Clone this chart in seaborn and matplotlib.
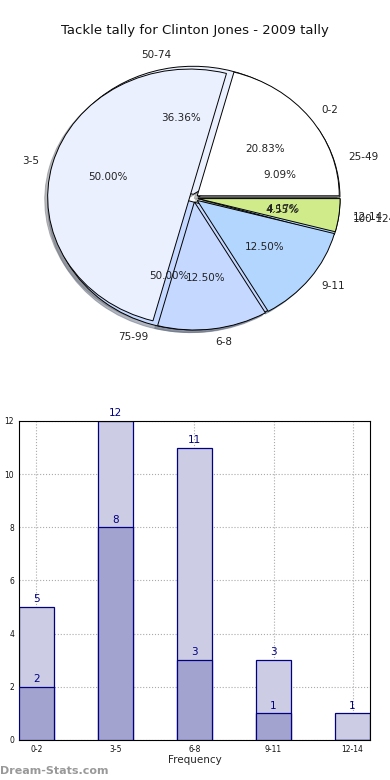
import matplotlib
matplotlib.use("Agg")
import matplotlib.pyplot as plt
import seaborn as sns
import pandas as pd

# data
freq_labels = ["0-2", "3-5", "6-8", "9-11", "12-14"]
freq_counts = [5, 12, 3, 3, 1]
tackle_labels = ["25-49", "50-74", "75-99", "100-124"]
tackle_counts = [2, 8, 11, 1]
bar_light = [5, 12, 11, 3, 1]
bar_dark = [2, 8, 3, 1, 0]

pie_colors = ["#ffffff", "#eaf0fe", "#c5d8ff", "#b3d6ff", "#d0ec8a"]

sns.set_style("white")
plt.rcParams["font.family"] = ["DejaVu Sans"]

fig = plt.figure(figsize=(3.9, 7.8), dpi=100)
fig.text(0.5, 0.961, "Tackle tally for Clinton Jones - 2009 tally",
         ha="center", va="center", fontsize=9.5, color="#111111")

# pie: two pies drawn on top of each other
ax_pie = fig.add_axes([0.060, 0.549, 0.874, 0.394])
for labels, counts in [(tackle_labels, tackle_counts), (freq_labels, freq_counts)]:
    wedges, texts, autotexts = ax_pie.pie(
        counts, labels=labels, colors=pie_colors[:len(counts)],
        explode=[0.03] * len(counts), autopct="%.2f%%", startangle=0,
        shadow=dict(ox=-0.015, oy=-0.015, shade=0.5), labeldistance=1.1,
        pctdistance=0.6,
        wedgeprops=dict(edgecolor="black", linewidth=0.7),
        textprops=dict(fontsize=7.5, color="#222222"))
ax_pie.set_aspect("auto")
ax_pie.set_xlim(-1.2, 1.2)
ax_pie.set_ylim(-1.2, 1.2)
ax_pie.axis("off")

# bar chart
ax = fig.add_axes([0.0487, 0.0513, 0.9, 0.409])
df = pd.DataFrame({"cat": freq_labels, "light": bar_light, "dark": bar_dark})
sns.barplot(data=df, x="cat", y="light", color="#ccccE4", saturation=1,
            width=0.44, edgecolor="#000080", linewidth=0.9, ax=ax, zorder=2)
sns.barplot(data=df, x="cat", y="dark", color="#a3a3d0", saturation=1,
            width=0.44, edgecolor="#000080", linewidth=0.9, ax=ax, zorder=3)
ax.bar_label(ax.containers[0], labels=[str(v) for v in bar_light],
             color="#000080", fontsize=7.5, padding=2)
ax.bar_label(ax.containers[1], labels=[str(v) if v else "" for v in bar_dark],
             color="#000080", fontsize=7.5, padding=2)
ax.set_xlim(-0.22, 4.22)
ax.set_ylim(0, 12)
ax.set_yticks(range(0, 13, 2))
ax.grid(True, linestyle=":", color="#aaaaaa", linewidth=0.8, zorder=0)
ax.set_axisbelow(True)
ax.tick_params(labelsize=5.5, length=3, direction="in", colors="#111111")
for s in ax.spines.values():
    s.set_color("black")
    s.set_linewidth(0.8)
ax.set_xlabel("Frequency", fontsize=7.5, labelpad=1)
ax.set_ylabel("")
fig.text(-0.025, 0.28, "Distribution", rotation=90, ha="left", va="center",
         fontsize=7.5)

fig.text(0.0, 0.012, "Dream-Stats.com", fontsize=8, color="#999999",
         fontweight="bold", ha="left", va="center")

fig.savefig("out.png", dpi=100)
